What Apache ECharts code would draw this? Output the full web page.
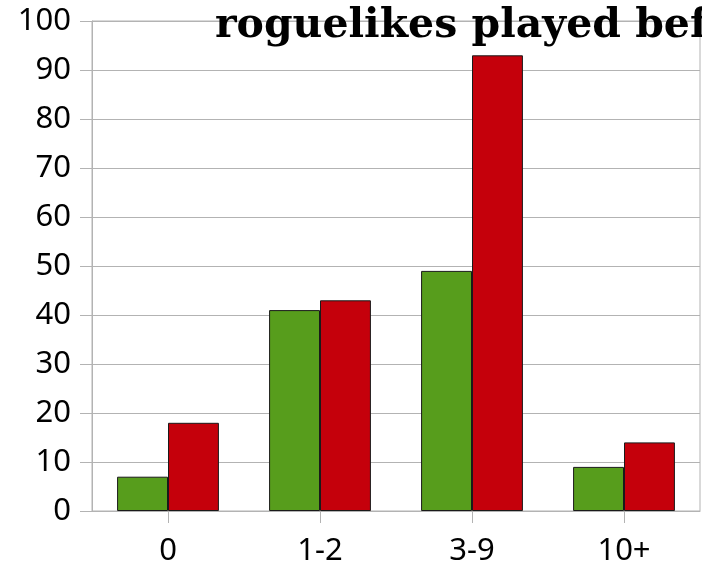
<!DOCTYPE html>
<html><head><meta charset="utf-8">
<script src="https://cdn.jsdelivr.net/npm/echarts@6/dist/echarts.min.js"></script>
<style>html,body{margin:0;padding:0;background:#fff}#c{width:702px;height:568px}</style>
</head><body><div id="c"></div>
<script>
var titleText = 'roguelikes played before';
var categories = ['0', '1-2', '3-9', '10+'];
var seriesA = [7, 41, 49, 9];
var seriesB = [18, 43, 93, 14];
var yTicks = {min: 0, max: 100, interval: 10};

var chart = echarts.init(document.getElementById('c'), null, {renderer: 'canvas'});
chart.setOption({
  backgroundColor: '#ffffff',
  animation: false,
  title: {
    text: titleText, left: 210, top: 1,
    textStyle: {fontFamily: 'DejaVu Serif', fontWeight: 'bold', fontSize: 41, color: '#000'}
  },
  grid: {left: 92, right: 2, top: 21, bottom: 57, show: true, borderColor: '#b3b3b3', borderWidth: 1, backgroundColor: 'transparent'},
  xAxis: {
    type: 'category', data: categories,
    axisLine: {show: true, lineStyle: {color: '#b3b3b3'}},
    axisTick: {show: true, alignWithLabel: true, length: 12, lineStyle: {color: '#b3b3b3'}},
    axisLabel: {fontFamily: 'Noto Sans', fontSize: 31, color: '#000', margin: 25}
  },
  yAxis: {
    type: 'value', min: yTicks.min, max: yTicks.max, interval: yTicks.interval,
    axisLine: {show: true, lineStyle: {color: '#b3b3b3'}},
    axisTick: {show: true, length: 12, inside: false, lineStyle: {color: '#b3b3b3'}},
    splitLine: {show: true, lineStyle: {color: '#b3b3b3'}},
    axisLabel: {fontFamily: 'Noto Sans', fontSize: 31, color: '#000', margin: 21}
  },
  series: [
    {type: 'bar', data: seriesA, barGap: '0%', barCategoryGap: '33%',
     itemStyle: {color: '#579d1c', borderColor: '#1a1a1a', borderWidth: 1}},
    {type: 'bar', data: seriesB, barGap: '0%', barCategoryGap: '33%',
     itemStyle: {color: '#c5000b', borderColor: '#1a1a1a', borderWidth: 1}}
  ]
});
</script></body></html>
